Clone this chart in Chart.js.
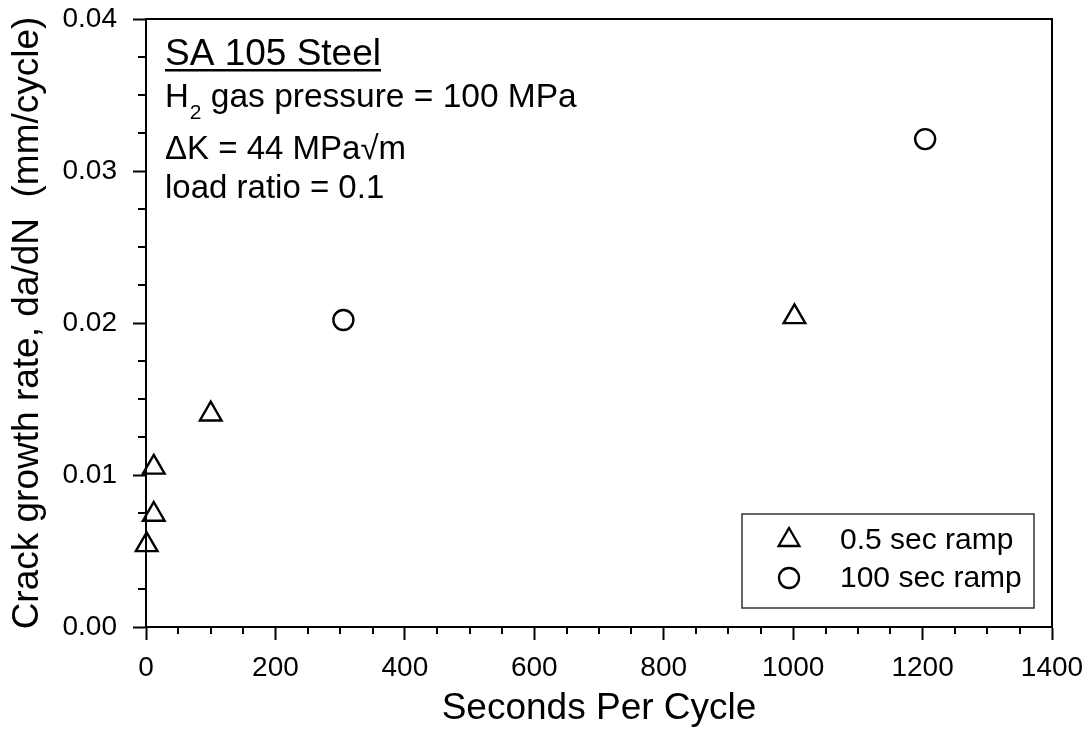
<!DOCTYPE html>
<html>
<head>
<meta charset="utf-8">
<script src="https://cdn.jsdelivr.net/npm/chart.js@4.4.1/dist/chart.umd.min.js"></script>
<style>
  html, body { margin: 0; padding: 0; background: #ffffff; }
  #wrap { width: 1091px; height: 735px; position: relative; }
</style>
</head>
<body>
<div id="wrap"><canvas id="c" width="1091" height="735"></canvas></div>
<script>
// ---- data ----
const ramp05Label = '0.5 sec ramp';
const ramp05X = [1, 12, 12, 100, 1002];
const ramp05Y = [0.0054, 0.0105, 0.0074, 0.0140, 0.0204];

const ramp100Label = '100 sec ramp';
const ramp100X = [305, 1204];
const ramp100Y = [0.0202, 0.0321];

const xTickLabels = ['0', '200', '400', '600', '800', '1000', '1200', '1400'];
const yTickLabels = ['0.00', '0.01', '0.02', '0.03', '0.04'];

const xTitle = 'Seconds Per Cycle';
const yTitle = 'Crack growth rate, da/dN  (mm/cycle)';
const noteTitle = 'SA 105 Steel';
const noteLines = ['gas pressure = 100 MPa', '\u0394K = 44 MPa\u221Am', 'load ratio = 0.1'];

const FONT = "'Liberation Sans', Arial, sans-serif";

function toPoints(xs, ys) { return xs.map((x, i) => ({ x: x, y: ys[i] })); }

// minor ticks, box frame, annotation and legend
const decorPlugin = {
  id: 'decor',
  afterDraw(chart) {
    const ctx = chart.ctx;
    const ca = chart.chartArea;
    const xs = chart.scales.x, ys = chart.scales.y;
    ctx.save();
    ctx.strokeStyle = '#000';
    ctx.lineWidth = 2;
    // top and right frame
    ctx.beginPath();
    ctx.moveTo(ca.left - 1, ca.top);
    ctx.lineTo(ca.right, ca.top);
    ctx.lineTo(ca.right, ca.bottom + 1);
    ctx.stroke();
    // minor ticks
    ctx.beginPath();
    for (let v = 0; v <= 0.04 + 1e-9; v += 0.0025) {
      if (Math.abs(v / 0.01 - Math.round(v / 0.01)) < 1e-6) continue;
      const py = Math.round(ys.getPixelForValue(v));
      ctx.moveTo(ca.left - 8, py);
      ctx.lineTo(ca.left, py);
    }
    for (let v = 0; v <= 1400; v += 50) {
      if (v % 200 === 0) continue;
      const px = Math.round(xs.getPixelForValue(v));
      ctx.moveTo(px, ca.bottom);
      ctx.lineTo(px, ca.bottom + 7);
    }
    ctx.stroke();

    // annotation
    ctx.fillStyle = '#000';
    ctx.textBaseline = 'alphabetic';
    ctx.textAlign = 'left';
    const ax = 165;
    ctx.font = '37px ' + FONT;
    ctx.fillText(noteTitle, ax, 65);
    const tw = ctx.measureText(noteTitle).width;
    ctx.fillRect(ax, 69, tw, 2.5);
    ctx.font = '33px ' + FONT;
    ctx.fillText('H', ax, 107);
    const hw = ctx.measureText('H').width;
    ctx.font = '21px ' + FONT;
    ctx.fillText('2', ax + hw + 1, 119);
    const sw = ctx.measureText('2').width;
    ctx.font = '33.5px ' + FONT;
    ctx.fillText(' ' + noteLines[0], ax + hw + sw + 1, 107);
    ctx.font = '33px ' + FONT;
    ctx.fillText(noteLines[1], ax, 159);
    ctx.fillText(noteLines[2], ax, 198);

    // legend
    const lx = 742, ly = 514, lw = 292, lh = 94;
    ctx.strokeStyle = '#333';
    ctx.lineWidth = 1.5;
    ctx.strokeRect(lx, ly, lw, lh);
    const rows = [540, 578];
    chart.data.datasets.forEach((ds, i) => {
      ctx.strokeStyle = '#000';
      ctx.fillStyle = 'rgba(0,0,0,0)';
      ctx.lineWidth = 2.3;
      Chart.helpers.drawPoint(ctx, { pointStyle: ds.pointStyle, radius: ds.legendRadius, borderWidth: 2.3, rotation: 0 }, 789, rows[i]);
      ctx.fillStyle = '#000';
      ctx.font = '30px ' + FONT;
      ctx.textBaseline = 'middle';
      ctx.fillText(ds.label, 840, rows[i] + 1);
    });
    ctx.restore();
  }
};

new Chart(document.getElementById('c'), {
  type: 'scatter',
  data: {
    datasets: [
      {
        label: ramp05Label,
        data: toPoints(ramp05X, ramp05Y),
        pointStyle: 'triangle',
        pointRadius: 12.5,
        legendRadius: 12,
        pointBorderWidth: 2.4,
        borderColor: '#000',
        backgroundColor: 'rgba(0,0,0,0)',
        clip: false
      },
      {
        label: ramp100Label,
        data: toPoints(ramp100X, ramp100Y),
        pointStyle: 'circle',
        pointRadius: 10,
        legendRadius: 10,
        pointBorderWidth: 2.4,
        borderColor: '#000',
        backgroundColor: 'rgba(0,0,0,0)',
        clip: false
      }
    ]
  },
  options: {
    responsive: false,
    animation: false,
    events: [],
    layout: { padding: { top: 19, right: 39, left: 0, bottom: 0 } },
    plugins: {
      legend: { display: false },
      tooltip: { enabled: false }
    },
    scales: {
      x: {
        type: 'linear',
        min: 0, max: 1400,
        afterFit(scale) {
          scale.height = 108;
          scale.paddingLeft = 0; scale.paddingRight = 0;
          scale.paddingTop = 0; scale.paddingBottom = 0;
        },
        ticks: {
          stepSize: 200,
          color: '#000',
          font: { family: FONT, size: 28 },
          padding: 11,
          maxRotation: 0,
          callback: (v, i) => xTickLabels[i]
        },
        grid: { drawOnChartArea: false, drawTicks: true, tickLength: 13, tickWidth: 2, tickColor: '#000' },
        border: { display: true, color: '#000', width: 2 },
        title: {
          display: true, text: xTitle, color: '#000',
          font: { family: FONT, size: 37 },
          padding: { top: 0, bottom: 4 }
        }
      },
      y: {
        type: 'linear',
        min: 0, max: 0.04,
        afterFit(scale) {
          scale.width = 146;
          scale.paddingLeft = 0; scale.paddingRight = 0;
          scale.paddingTop = 0; scale.paddingBottom = 0;
        },
        ticks: {
          stepSize: 0.01,
          color: '#000',
          font: { family: FONT, size: 28 },
          padding: 16,
          callback: (v, i) => yTickLabels[i]
        },
        grid: { drawOnChartArea: false, drawTicks: true, tickLength: 13, tickWidth: 2, tickColor: '#000' },
        border: { display: true, color: '#000', width: 2 },
        title: {
          display: true, text: yTitle, color: '#000',
          font: { family: FONT, size: 37 },
          padding: { top: 6, bottom: 0 }
        }
      }
    }
  },
  plugins: [decorPlugin]
});
</script>
</body>
</html>
